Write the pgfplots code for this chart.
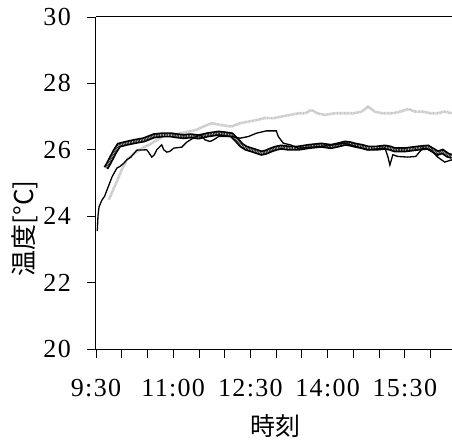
\documentclass[border=0pt]{standalone}
\usepackage{pgfplots}
\pgfplotsset{compat=1.18}
\usepackage{fontspec}
\setmainfont{Liberation Serif}
\newfontfamily\jp{Noto Sans CJK JP}
\newfontfamily\tickf[LetterSpace=5]{Liberation Serif}
\begin{document}
\begin{tikzpicture}
\begin{axis}[
  scale only axis,
  width=356pt, height=332pt,
  xmin=0, xmax=415, ymin=20, ymax=30,
  axis x line*=bottom, axis y line*=left,
  axis line style={line width=1pt, -},
  tick align=outside,
  major tick length=9pt,
  tick style={black, line width=0.8pt},
  xtick={0,30,...,390},
  xticklabels={9:30,,,11:00,,,12:30,,,14:00,,,15:30,,},
  ytick={20,22,...,30},
  /pgf/number format/assume math mode=true,
  xticklabel style={font=\tickf\fontsize{26}{26}\selectfont, inner sep=0pt, yshift=-21pt},
  yticklabel style={font=\tickf\fontsize{26}{26}\selectfont, inner sep=0pt, xshift=-16pt},
  xlabel={\jp 時刻},
  ylabel={\jp 温度[°C]},
  xlabel style={font=\fontsize{25}{25}\selectfont, at={(axis description cs:0.503,-0.232)}, anchor=center},
  ylabel style={font=\fontsize{26}{26}\selectfont, at={(axis description cs:-0.201,0.364)}, anchor=center},
  clip=true,
]
% gray series
\addplot[gray!45, line width=2.6pt, dash pattern=on 0.9pt off 0.5pt] coordinates {
(15,24.5)(20,24.8)(24,25.03)(30,25.4)(36,25.7)(45,25.9)(56,26.08)(62,26.15)(67,26.23)(75,26.35)(82,26.45)(90,26.45)(99,26.5)(108,26.55)(117,26.6)(125,26.7)(135,26.8)(145,26.75)(158,26.7)(168,26.8)(178,26.85)(188,26.9)(197,26.96)(207,26.95)(216,27.0)(226,27.05)(236,27.1)(244,27.1)(251,27.2)(258,27.1)(267,27.05)(278,27.1)(288,27.1)(300,27.1)(310,27.15)(317,27.3)(325,27.15)(334,27.1)(345,27.1)(355,27.15)(364,27.23)(372,27.15)(381,27.15)(390,27.1)(398,27.1)(406,27.15)(415,27.1)
};
% thick black series
\addplot[black, line width=5.2pt] coordinates {
(11.6,25.45)(15,25.6)(18.6,25.78)(22,25.95)(26.7,26.14)(36,26.2)(45,26.25)(55.7,26.3)(67.4,26.42)(78,26.45)(87.1,26.45)(95,26.42)(102.2,26.4)(110,26.42)(119.6,26.39)(130,26.45)(142.8,26.5)(150,26.48)(158,26.45)(164,26.3)(169.5,26.14)(175,26.05)(181.2,26.0)(187,25.95)(192.8,25.9)(198,25.93)(204.4,26.0)(210,26.05)(216,26.08)(225,26.05)(235.7,26.05)(248,26.1)(262.5,26.14)(274,26.1)(283,26.15)(290.3,26.2)(296,26.18)(302,26.14)(310,26.1)(317,26.05)(327,26.05)(336.8,26.08)(343,26.05)(348.4,26.0)(360,26.0)(375.1,26.05)(386.7,26.08)(392,26.0)(398.3,25.9)(404,25.95)(410,25.84)(415,25.8)
};
\addplot[gray!65, line width=1.8pt, dash pattern=on 0.8pt off 0.8pt] coordinates {
(11.6,25.45)(15,25.6)(18.6,25.78)(22,25.95)(26.7,26.14)(36,26.2)(45,26.25)(55.7,26.3)(67.4,26.42)(78,26.45)(87.1,26.45)(95,26.42)(102.2,26.4)(110,26.42)(119.6,26.39)(130,26.45)(142.8,26.5)(150,26.48)(158,26.45)(164,26.3)(169.5,26.14)(175,26.05)(181.2,26.0)(187,25.95)(192.8,25.9)(198,25.93)(204.4,26.0)(210,26.05)(216,26.08)(225,26.05)(235.7,26.05)(248,26.1)(262.5,26.14)(274,26.1)(283,26.15)(290.3,26.2)(296,26.18)(302,26.14)(310,26.1)(317,26.05)(327,26.05)(336.8,26.08)(343,26.05)(348.4,26.0)(360,26.0)(375.1,26.05)(386.7,26.08)(392,26.0)(398.3,25.9)(404,25.95)(410,25.84)(415,25.8)
};
% thin black series
\addplot[black, line width=1.3pt] coordinates {
(1.5,23.55)(2.3,24.0)(3.5,24.28)(7,24.49)(10,24.6)(12.8,24.79)(16,25.0)(18.6,25.18)(24.4,25.45)(28,25.5)(32.5,25.6)(36,25.7)(40.6,25.78)(47.6,25.99)(59.2,26.0)(62,25.9)(65,25.78)(68,25.85)(70.8,26.0)(76.6,26.15)(79,26.0)(82.5,25.93)(86,25.95)(90.6,26.05)(99.9,26.08)(105.7,26.23)(113.8,26.36)(121.9,26.45)(127,26.3)(133,26.25)(137,26.3)(143,26.4)(158,26.4)(168,26.35)(177.7,26.4)(187,26.5)(198.6,26.57)(210.2,26.57)(212.5,26.4)(218.3,26.2)(227.6,26.14)(235.7,26.05)(262.5,26.1)(290.3,26.2)(303,26.1)(317,26.0)(336.8,26.05)(340.2,25.8)(342.6,25.54)(346,25.85)(351.9,25.8)(363.5,25.78)(372.8,25.8)(380.9,26.05)(390.2,26.0)(398.3,25.78)(406.5,25.63)(415,25.7)
};
\draw[line width=1pt] (rel axis cs:0,1) -- (rel axis cs:1,1);
\end{axis}
\pgfresetboundingbox
\path[use as bounding box] (-96pt,-93pt) rectangle (356pt,349pt);
\end{tikzpicture}
\end{document}
